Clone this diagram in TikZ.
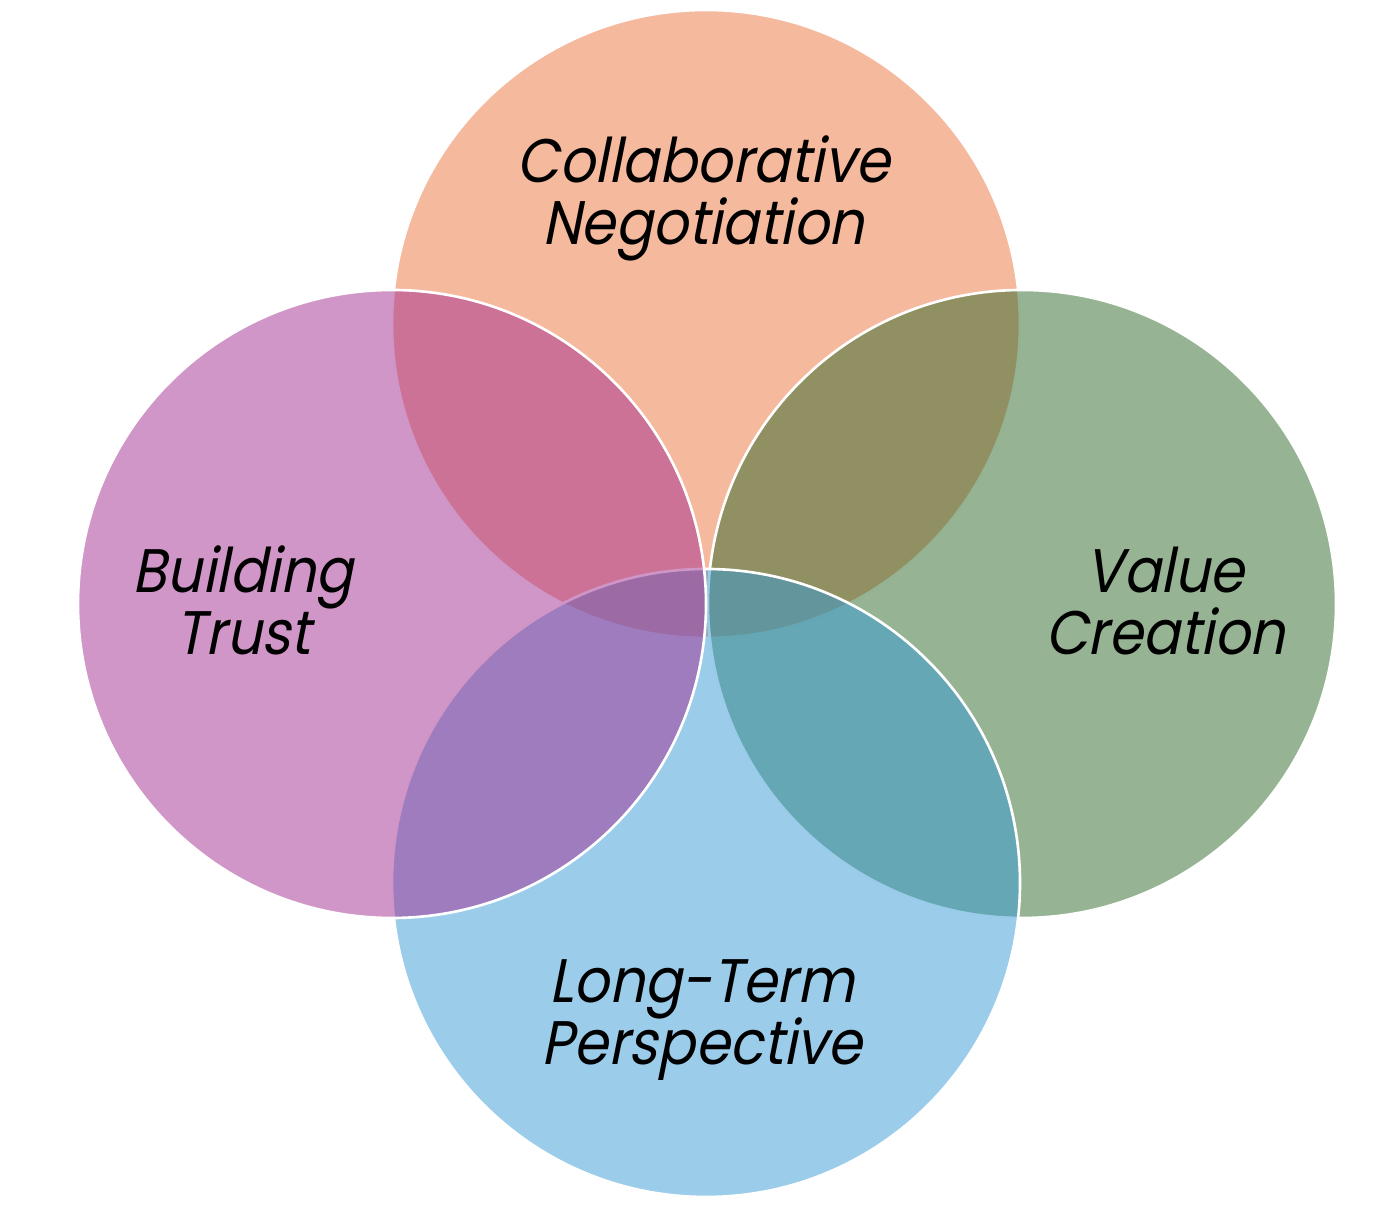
\documentclass[tikz,border=0pt]{standalone}
\usepackage{fontspec}
\usepackage{xcolor}
\usepackage{tikz}
\usetikzlibrary{positioning, calc}
\newfontfamily\vennfont[FakeSlant=0.2, FakeStretch=0.9]{Poppins}
\definecolor{negoorange}{RGB}{235,115,60}
\definecolor{trustpink}{RGB}{163,45,145}
\definecolor{valuegreen}{RGB}{45,105,41}
\definecolor{termblue}{RGB}{55,155,215}

\begin{document}
\begin{tikzpicture}[
    ring/.style={circle, draw=white, line width=0.75pt, fill opacity=0.5,
                 minimum size=6.28cm, inner sep=0pt},
    lbl/.style={font=\vennfont\fontsize{17.5}{18}\selectfont, anchor=base, inner sep=0pt}]

\useasboundingbox (0,0) rectangle (13.86,12.22);

%% Circles: drawn top, right, bottom, left
\node[ring, fill=negoorange] (nego)  at (7.06,8.98) {};
\node[ring, fill=valuegreen] (value) at (10.22,6.18) {};
\node[ring, fill=termblue]   (term)  at (7.06,3.39) {};
\node[ring, fill=trustpink]  (trust) at (3.92,6.18) {};

%% Labels
\node[lbl] (negoA)  at (7.03,10.39) {Collaborative};
\node[lbl] (negoB)  at (7.03,9.77)  {Negotiation};
\node[lbl] (trustA) at (2.43,6.29)  {Building};
\node[lbl] (trustB) at (2.43,5.67)  {Trust};
\node[lbl] (valueA) at (11.65,6.29) {Value};
\node[lbl] (valueB) at (11.65,5.67) {Creation};
\node[lbl] (termA)  at (7.02,2.19)  {Long-Term};
\node[lbl] (termB)  at (7.02,1.57)  {Perspective};

\end{tikzpicture}
\end{document}
